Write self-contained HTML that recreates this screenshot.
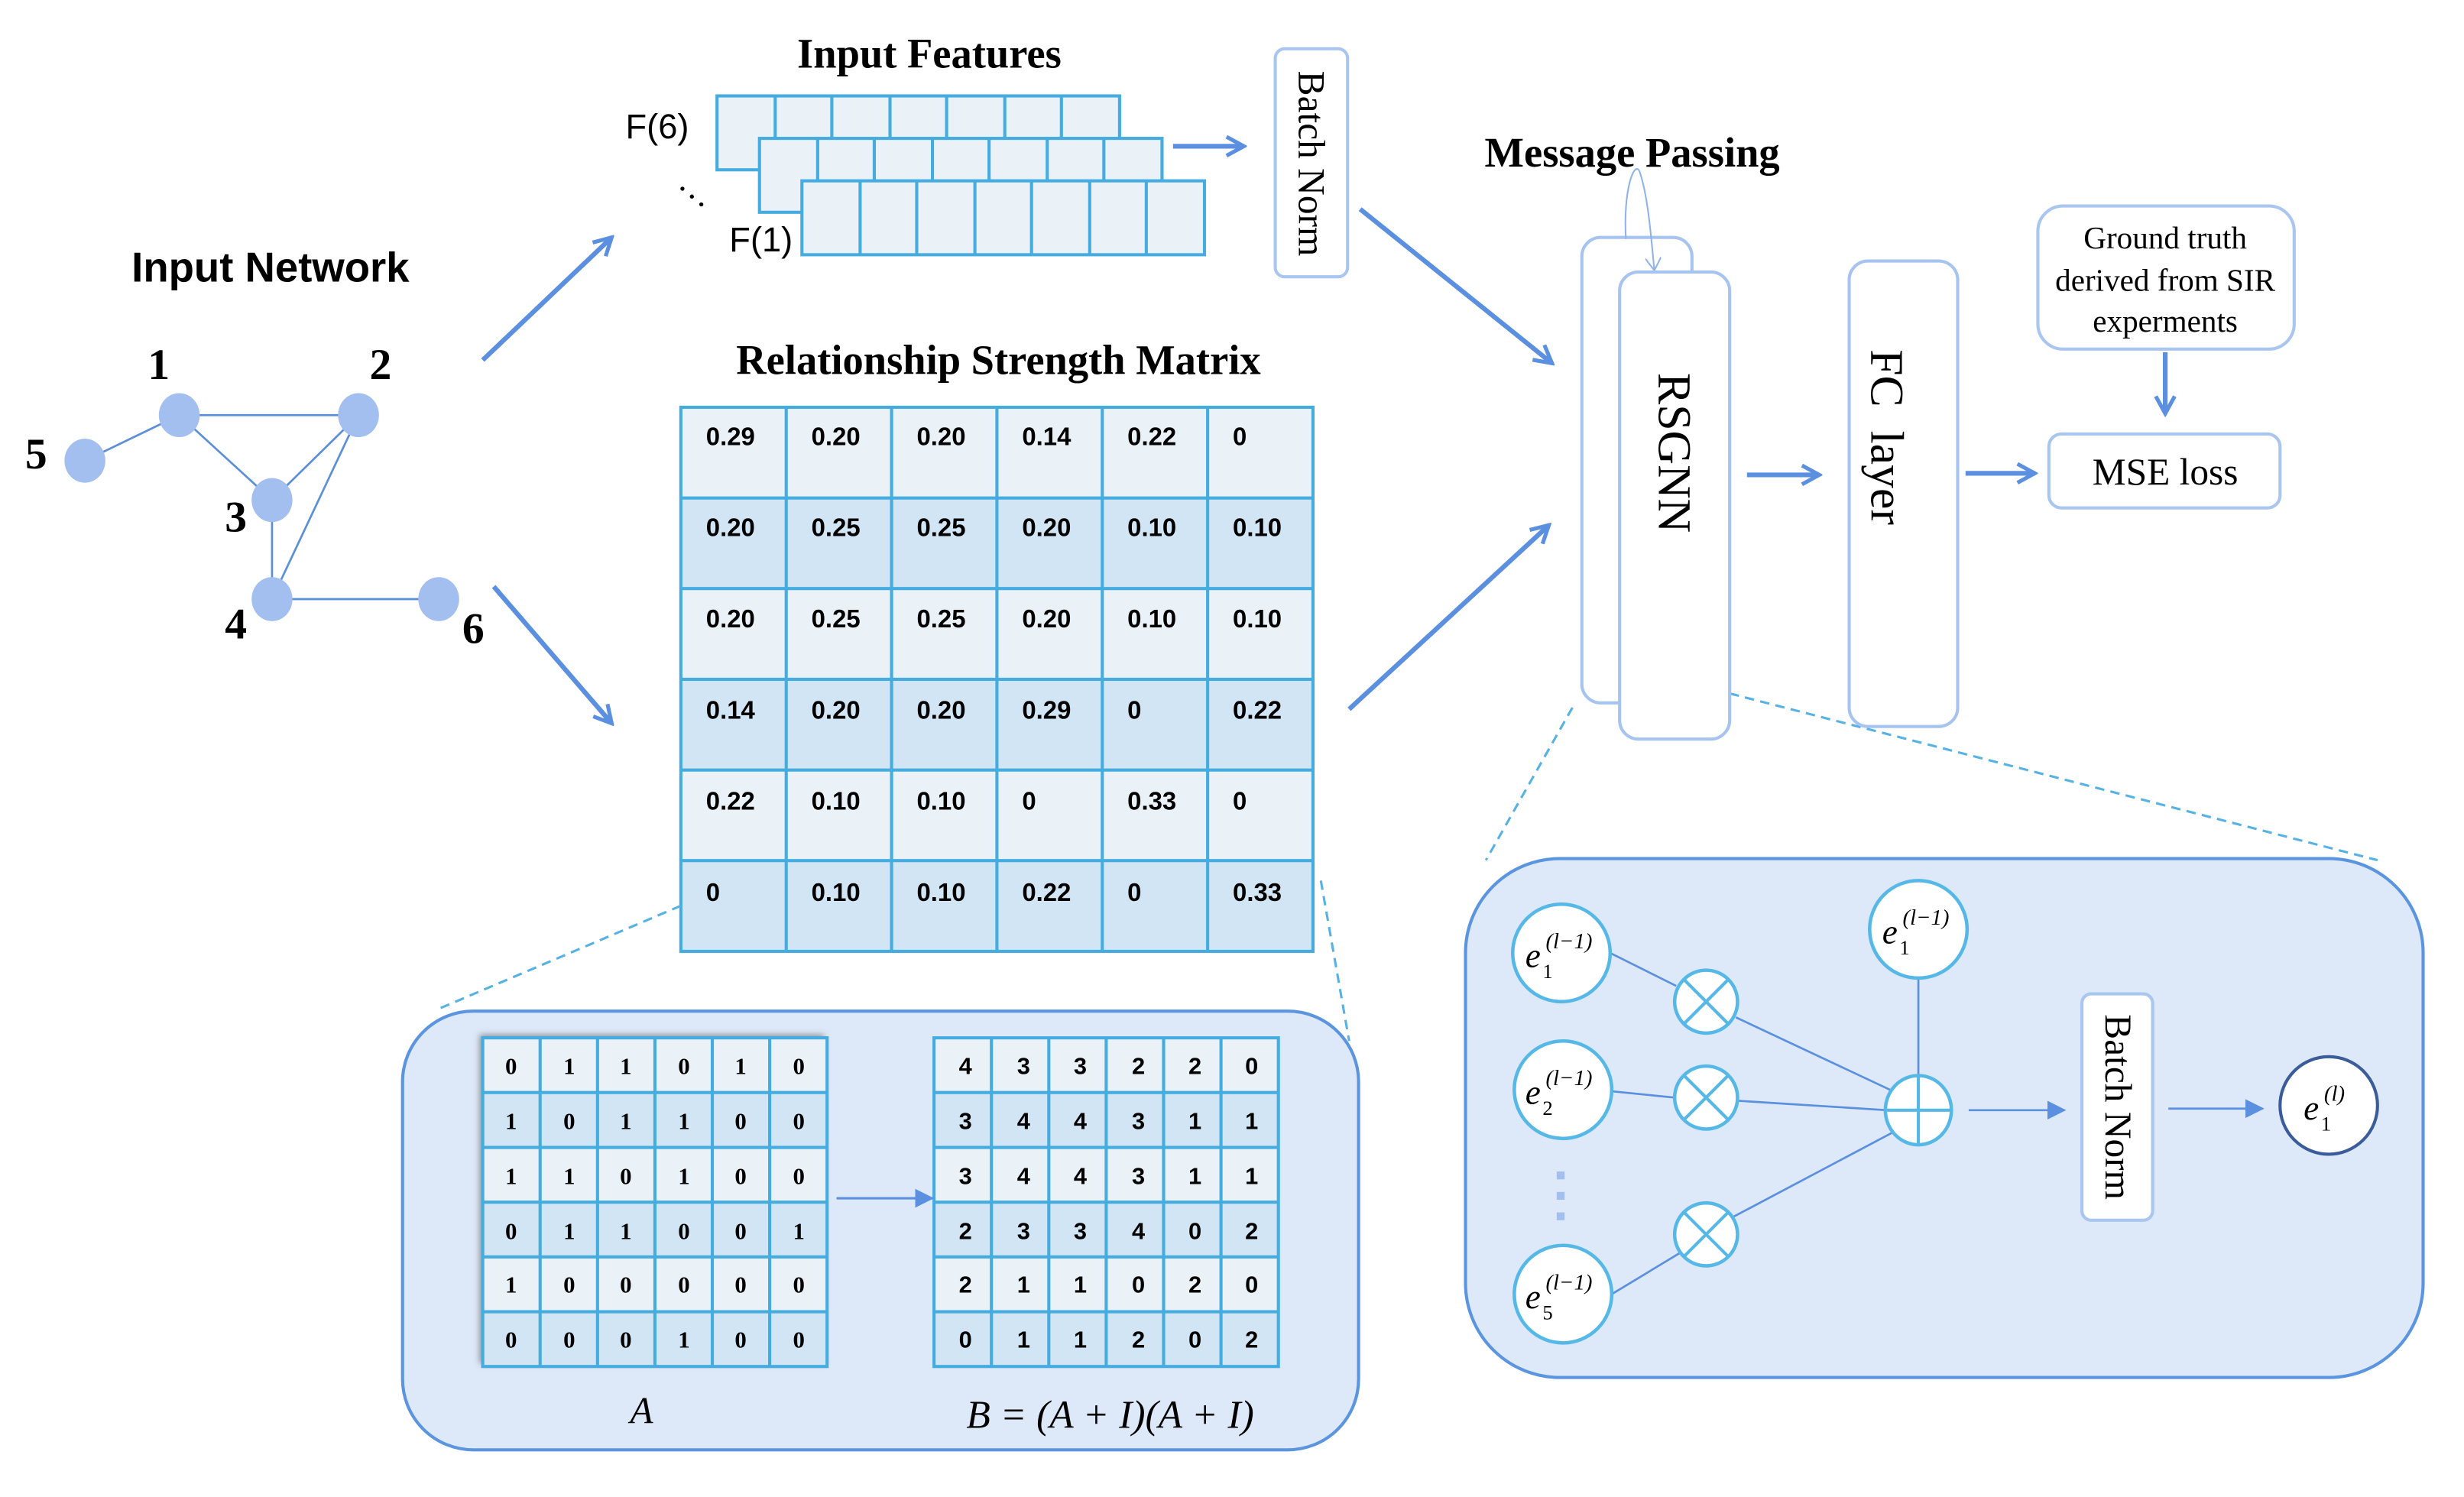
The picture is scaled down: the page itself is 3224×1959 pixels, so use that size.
<!DOCTYPE html>
<html><head><meta charset="utf-8"><style>
html,body{margin:0;padding:0;background:#fff;}
svg{display:block;}
.sans{font-family:"Liberation Sans",sans-serif;}
.serif{font-family:"Liberation Serif",serif;}
</style></head><body>
<svg width="3224" height="1959" viewBox="0 0 1567 952" preserveAspectRatio="none" xmlns="http://www.w3.org/2000/svg">
<defs>
<marker id="oa2" markerWidth="14" markerHeight="14" refX="12" refY="7" orient="auto" markerUnits="userSpaceOnUse" viewBox="0 0 14 14">
<path d="M1,1 L12,7 L1,13" fill="none" stroke="#5b8fe0" stroke-width="2.5"/></marker>
<marker id="fa" markerWidth="12" markerHeight="12" refX="11" refY="6" orient="auto" markerUnits="userSpaceOnUse" viewBox="0 0 12 12">
<path d="M0,0 L12,6 L0,12 Z" fill="#5b8fe0"/></marker>
<marker id="la" markerWidth="10" markerHeight="10" refX="8" refY="5" orient="auto" markerUnits="userSpaceOnUse" viewBox="0 0 10 10">
<path d="M1,0 L9,5 L1,10" fill="none" stroke="#8fb2ea" stroke-width="1"/></marker>
<filter id="sh" x="-10%" y="-10%" width="120%" height="120%"><feDropShadow dx="-2" dy="-2" stdDeviation="2" flood-color="#555" flood-opacity="0.6"/></filter>
</defs>

<text x="172" y="179" text-anchor="middle" class="sans" font-weight="bold" font-size="26.5">Input Network</text>
<g stroke="#5b8fd8" stroke-width="1.3">
<line x1="54" y1="293" x2="114" y2="264"/><line x1="114" y1="264" x2="228" y2="264"/>
<line x1="114" y1="264" x2="173" y2="318"/><line x1="228" y1="264" x2="173" y2="318"/>
<line x1="228" y1="264" x2="173" y2="381"/><line x1="173" y1="318" x2="173" y2="381"/>
<line x1="173" y1="381" x2="279" y2="381"/></g>
<g fill="#a3bfef">
<ellipse cx="114" cy="264" rx="13" ry="14"/><ellipse cx="228" cy="264" rx="13" ry="14"/>
<ellipse cx="173" cy="318" rx="13" ry="14"/><ellipse cx="173" cy="381" rx="13" ry="14"/>
<ellipse cx="54" cy="293" rx="13" ry="14"/><ellipse cx="279" cy="381" rx="13" ry="14"/></g>
<g class="serif" font-weight="bold" font-size="28" text-anchor="middle">
<text x="101" y="241">1</text><text x="242" y="241">2</text><text x="23" y="298">5</text>
<text x="150" y="338">3</text><text x="150" y="406">4</text><text x="301" y="409">6</text></g>

<g stroke="#5b8fe0" stroke-width="3" fill="none">
<line x1="307" y1="229" x2="389" y2="151" marker-end="url(#oa2)"/>
<line x1="314" y1="373" x2="389" y2="460" marker-end="url(#oa2)"/>
<line x1="746" y1="93" x2="791" y2="93" marker-end="url(#oa2)"/>
<line x1="865" y1="133" x2="987" y2="231" marker-end="url(#oa2)"/>
<line x1="858" y1="451" x2="985" y2="334" marker-end="url(#oa2)"/>
<line x1="1111" y1="302" x2="1157" y2="302" marker-end="url(#oa2)"/>
<line x1="1250" y1="301" x2="1294" y2="301" marker-end="url(#oa2)"/>
<line x1="1377" y1="224" x2="1377" y2="263" marker-end="url(#oa2)"/>
</g>

<text x="591" y="43" text-anchor="middle" class="serif" font-weight="bold" font-size="26.5">Input Features</text>
<g stroke="#45ace0" stroke-width="2" fill="#eaf2f8">
<rect x="456" y="61" width="256" height="47"/>
<rect x="483" y="88" width="256" height="47"/>
<rect x="510" y="115" width="256" height="47"/>
</g>
<g stroke="#45ace0" stroke-width="2">
<path d="M493,61V88M529,61V88M566,61V88M602,61V88M639,61V88M675,61V88"/>
<path d="M520,88V115M556,88V115M593,88V115M629,88V115M666,88V115M702,88V115"/>
<path d="M547,115V162M583,115V162M620,115V162M656,115V162M693,115V162M729,115V162"/>
</g>
<text x="418" y="88" text-anchor="middle" class="sans" font-size="22">F(6)</text>
<text x="484" y="160" text-anchor="middle" class="sans" font-size="22">F(1)</text>
<g fill="#000"><circle cx="434" cy="120" r="1.3"/><circle cx="440" cy="125" r="1.3"/><circle cx="446" cy="130" r="1.3"/></g>

<rect x="811" y="31" width="46" height="145" rx="6" fill="#fff" stroke="#a8c6f0" stroke-width="2"/>
<text transform="translate(826,104) rotate(90)" text-anchor="middle" class="serif" font-size="24">Batch Norm</text>

<text x="635" y="238" text-anchor="middle" class="serif" font-weight="bold" font-size="26.5">Relationship Strength Matrix</text>
<g stroke="none">
<rect x="433" y="259" width="402" height="57.7" fill="#eaf2f8"/>
<rect x="433" y="316.7" width="402" height="57.7" fill="#d2e5f4"/>
<rect x="433" y="374.3" width="402" height="57.7" fill="#eaf2f8"/>
<rect x="433" y="432" width="402" height="57.7" fill="#d2e5f4"/>
<rect x="433" y="489.7" width="402" height="57.7" fill="#eaf2f8"/>
<rect x="433" y="547.3" width="402" height="57.7" fill="#d2e5f4"/>
</g>
<g stroke="#45ace0" stroke-width="2" fill="none">
<rect x="433" y="259" width="402" height="346"/>
<path d="M500,259V605M567,259V605M634,259V605M701,259V605M768,259V605"/>
<path d="M433,316.7H835M433,374.3H835M433,432H835M433,489.7H835M433,547.3H835"/>
</g>
<g class="sans" font-weight="bold" font-size="16">
<text x="449" y="283">0.29</text><text x="516" y="283">0.20</text><text x="583" y="283">0.20</text><text x="650" y="283">0.14</text><text x="717" y="283">0.22</text><text x="784" y="283">0</text>
<text x="449" y="341">0.20</text><text x="516" y="341">0.25</text><text x="583" y="341">0.25</text><text x="650" y="341">0.20</text><text x="717" y="341">0.10</text><text x="784" y="341">0.10</text>
<text x="449" y="399">0.20</text><text x="516" y="399">0.25</text><text x="583" y="399">0.25</text><text x="650" y="399">0.20</text><text x="717" y="399">0.10</text><text x="784" y="399">0.10</text>
<text x="449" y="457">0.14</text><text x="516" y="457">0.20</text><text x="583" y="457">0.20</text><text x="650" y="457">0.29</text><text x="717" y="457">0</text><text x="784" y="457">0.22</text>
<text x="449" y="515">0.22</text><text x="516" y="515">0.10</text><text x="583" y="515">0.10</text><text x="650" y="515">0</text><text x="717" y="515">0.33</text><text x="784" y="515">0</text>
<text x="449" y="573">0</text><text x="516" y="573">0.10</text><text x="583" y="573">0.10</text><text x="650" y="573">0.22</text><text x="717" y="573">0</text><text x="784" y="573">0.33</text>
</g>

<g stroke="#56b2e4" stroke-width="1.5" stroke-dasharray="6,4" fill="none">
<line x1="433" y1="576" x2="278" y2="642"/>
<line x1="840" y1="560" x2="858" y2="662"/>
<line x1="1000" y1="450" x2="945" y2="547"/>
<line x1="1100" y1="441" x2="1512" y2="547"/>
</g>

<rect x="256" y="643" width="608" height="279" rx="45" fill="#dde9f8" stroke="#5b95e0" stroke-width="2"/>
<rect x="307" y="660" width="219" height="209" fill="#eaf2f8" filter="url(#sh)"/>
<rect x="307" y="694.8" width="219" height="34.8" fill="#d2e5f4"/>
<rect x="307" y="764.5" width="219" height="34.8" fill="#d2e5f4"/>
<rect x="307" y="834.2" width="219" height="34.8" fill="#d2e5f4"/>
<g stroke="#45ace0" stroke-width="2" fill="none">
<rect x="307" y="660" width="219" height="209"/>
<path d="M343.5,660V869M380,660V869M416.5,660V869M453,660V869M489.5,660V869"/>
<path d="M307,694.8H526M307,729.7H526M307,764.5H526M307,799.3H526M307,834.2H526"/>
</g>
<g class="serif" font-weight="bold" font-size="15" text-anchor="middle">
<text x="325" y="683">0</text><text x="362" y="683">1</text><text x="398" y="683">1</text><text x="435" y="683">0</text><text x="471" y="683">1</text><text x="508" y="683">0</text>
<text x="325" y="718">1</text><text x="362" y="718">0</text><text x="398" y="718">1</text><text x="435" y="718">1</text><text x="471" y="718">0</text><text x="508" y="718">0</text>
<text x="325" y="753">1</text><text x="362" y="753">1</text><text x="398" y="753">0</text><text x="435" y="753">1</text><text x="471" y="753">0</text><text x="508" y="753">0</text>
<text x="325" y="788">0</text><text x="362" y="788">1</text><text x="398" y="788">1</text><text x="435" y="788">0</text><text x="471" y="788">0</text><text x="508" y="788">1</text>
<text x="325" y="822">1</text><text x="362" y="822">0</text><text x="398" y="822">0</text><text x="435" y="822">0</text><text x="471" y="822">0</text><text x="508" y="822">0</text>
<text x="325" y="857">0</text><text x="362" y="857">0</text><text x="398" y="857">0</text><text x="435" y="857">1</text><text x="471" y="857">0</text><text x="508" y="857">0</text>
</g>
<rect x="594" y="660" width="219" height="209" fill="#eaf2f8"/>
<rect x="594" y="694.8" width="219" height="34.8" fill="#d2e5f4"/>
<rect x="594" y="764.5" width="219" height="34.8" fill="#d2e5f4"/>
<rect x="594" y="834.2" width="219" height="34.8" fill="#d2e5f4"/>
<g stroke="#45ace0" stroke-width="2" fill="none">
<rect x="594" y="660" width="219" height="209"/>
<path d="M630.5,660V869M667,660V869M703.5,660V869M740,660V869M776.5,660V869"/>
<path d="M594,694.8H813M594,729.7H813M594,764.5H813M594,799.3H813M594,834.2H813"/>
</g>
<g class="sans" font-weight="bold" font-size="15" text-anchor="middle">
<text x="614" y="683">4</text><text x="651" y="683">3</text><text x="687" y="683">3</text><text x="724" y="683">2</text><text x="760" y="683">2</text><text x="796" y="683">0</text>
<text x="614" y="718">3</text><text x="651" y="718">4</text><text x="687" y="718">4</text><text x="724" y="718">3</text><text x="760" y="718">1</text><text x="796" y="718">1</text>
<text x="614" y="753">3</text><text x="651" y="753">4</text><text x="687" y="753">4</text><text x="724" y="753">3</text><text x="760" y="753">1</text><text x="796" y="753">1</text>
<text x="614" y="788">2</text><text x="651" y="788">3</text><text x="687" y="788">3</text><text x="724" y="788">4</text><text x="760" y="788">0</text><text x="796" y="788">2</text>
<text x="614" y="822">2</text><text x="651" y="822">1</text><text x="687" y="822">1</text><text x="724" y="822">0</text><text x="760" y="822">2</text><text x="796" y="822">0</text>
<text x="614" y="857">0</text><text x="651" y="857">1</text><text x="687" y="857">1</text><text x="724" y="857">2</text><text x="760" y="857">0</text><text x="796" y="857">2</text>
</g>
<line x1="532" y1="762" x2="593" y2="762" stroke="#5b8fe0" stroke-width="1.5" marker-end="url(#fa)"/>
<text x="408" y="905" text-anchor="middle" class="serif" font-style="italic" font-size="24">A</text>
<text x="706" y="908" text-anchor="middle" class="serif" font-style="italic" font-size="25">B = (A + I)(A + I)</text>

<text x="1038" y="106" text-anchor="middle" class="serif" font-weight="bold" font-size="26.5">Message Passing</text>
<rect x="1006" y="151" width="70" height="296" rx="12" fill="#fff" stroke="#a6c4ef" stroke-width="2"/>
<path d="M1034,152 C1032,120 1040,100 1043,110 C1048,125 1050,150 1052,171" fill="none" stroke="#8fb2ea" stroke-width="1" marker-end="url(#la)"/>
<rect x="1030" y="173" width="70" height="297" rx="12" fill="#fff" stroke="#a6c4ef" stroke-width="2"/>
<text transform="translate(1055,288) rotate(90)" text-anchor="middle" class="serif" font-size="30">RSGNN</text>
<rect x="1176" y="166" width="69" height="296" rx="12" fill="#fff" stroke="#a6c4ef" stroke-width="2"/>
<text transform="translate(1190,278) rotate(90)" text-anchor="middle" class="serif" font-size="30" xml:space="preserve">FC  layer</text>
<rect x="1296" y="131" width="163" height="91" rx="16" fill="#fff" stroke="#a8c6f0" stroke-width="2"/>
<g class="serif" font-size="20" text-anchor="middle">
<text x="1377" y="158">Ground truth</text><text x="1377" y="185">derived from SIR</text><text x="1377" y="211">experments</text></g>
<rect x="1303" y="276" width="147" height="47" rx="8" fill="#fff" stroke="#a8c6f0" stroke-width="2"/>
<text x="1377" y="308" text-anchor="middle" class="serif" font-size="24">MSE loss</text>

<rect x="932" y="546" width="609" height="330" rx="60" fill="#dde9f8" stroke="#5b95e0" stroke-width="2"/>
<g stroke="#5b8fe0" stroke-width="1.3">
<line x1="1024" y1="606" x2="1066" y2="627"/><line x1="1104" y1="647" x2="1204" y2="694"/>
<line x1="1025" y1="694" x2="1065" y2="698"/><line x1="1105" y1="700" x2="1200" y2="706"/>
<line x1="1025" y1="823" x2="1068" y2="797"/><line x1="1102" y1="774" x2="1204" y2="720"/>
<line x1="1220" y1="622" x2="1220" y2="686"/>
<line x1="1252" y1="706" x2="1313" y2="706" marker-end="url(#fa)"/>
<line x1="1379" y1="705" x2="1439" y2="705" marker-end="url(#fa)"/>
</g>
<g fill="#fff" stroke="#56b8e6" stroke-width="2.2">
<ellipse cx="993" cy="606" rx="31" ry="31"/><ellipse cx="994" cy="693" rx="31" ry="31"/>
<ellipse cx="994" cy="823" rx="31" ry="31"/><ellipse cx="1220" cy="591" rx="31" ry="31"/>
<ellipse cx="1085" cy="637" rx="20" ry="20"/><ellipse cx="1085" cy="698" rx="20" ry="20"/><ellipse cx="1085" cy="785" rx="20" ry="20"/>
<ellipse cx="1220" cy="706" rx="21" ry="22"/>
</g>
<g stroke="#56b8e6" stroke-width="2">
<path d="M1071,623L1099,651M1099,623L1071,651"/>
<path d="M1071,684L1099,712M1099,684L1071,712"/>
<path d="M1071,771L1099,799M1099,771L1071,799"/>
<path d="M1199,706H1241M1220,684V728"/>
</g>
<g fill="#a3bfef"><rect x="990" y="745" width="5" height="5"/><rect x="990" y="758" width="5" height="5"/><rect x="990" y="771" width="5" height="5"/></g>
<ellipse cx="1481" cy="703" rx="31" ry="31" fill="#fff" stroke="#3a5c9a" stroke-width="2"/>
<g class="serif" font-style="italic" font-size="22">
<text x="970" y="615">e</text><text x="981" y="622" font-size="13" font-style="normal">1</text><text x="983" y="603" font-size="14">(l−1)</text>
<text x="970" y="702">e</text><text x="981" y="709" font-size="13" font-style="normal">2</text><text x="983" y="690" font-size="14">(l−1)</text>
<text x="970" y="832">e</text><text x="981" y="839" font-size="13" font-style="normal">5</text><text x="983" y="820" font-size="14">(l−1)</text>
<text x="1197" y="600">e</text><text x="1208" y="607" font-size="13" font-style="normal">1</text><text x="1210" y="588" font-size="14">(l−1)</text>
<text x="1465" y="712">e</text><text x="1476" y="719" font-size="13" font-style="normal">1</text><text x="1478" y="700" font-size="14">(l)</text>
</g>
<rect x="1324" y="632" width="45" height="144" rx="6" fill="#fff" stroke="#a8c6f0" stroke-width="2"/>
<text transform="translate(1339,704) rotate(90)" text-anchor="middle" class="serif" font-size="24">Batch Norm</text>
</svg>
</body></html>
